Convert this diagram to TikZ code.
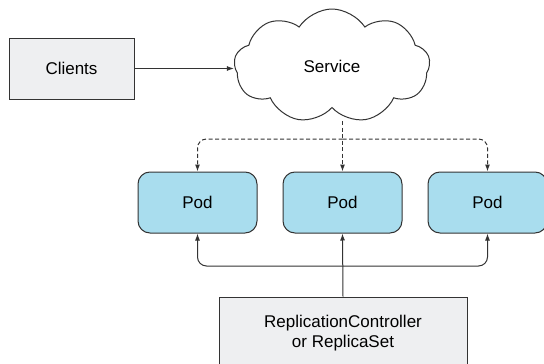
\documentclass[tikz,border=0pt]{standalone}
\usepackage{fontspec}
\setmainfont{Liberation Sans}
\usetikzlibrary{positioning,shapes.symbols,arrows.meta}
\definecolor{linegray}{HTML}{333333}
\definecolor{boxgray}{HTML}{EEEFF1}
\definecolor{podblue}{HTML}{A9DDEE}
\begin{document}
\begin{tikzpicture}[
    x=1pt, y=1pt,
    font=\fontsize{17}{20}\selectfont,
    box/.style={draw=linegray, line width=1pt, align=center, inner sep=2pt},
    plain/.style={box, fill=boxgray},
    pod/.style={box, fill=podblue, rounded corners=12pt, minimum width=119pt, minimum height=61pt},
    arr/.style={-{Latex[length=7pt,width=5pt]}, line width=1pt, draw=linegray, rounded corners=9pt},
    dasharr/.style={arr, dashed, dash pattern=on 4pt off 2.5pt}
  ]
  \useasboundingbox (0,0) rectangle (544,-364);
  % top row: clients -> service
  \node[plain, minimum width=125pt, minimum height=61pt] (clients) at (71.5,-68.5) {Clients};
  \node[draw=linegray, line width=1pt, fill=white, cloud, cloud puffs=9, cloud puff arc=115, aspect=1.75,
        minimum width=196pt, minimum height=114pt, inner sep=0pt] (svc) at (332,-66) {Service};
  % pods
  \node[pod] (pod2) at (342.5,-202.5) {Pod};
  \node[pod, left=25pt of pod2] (pod1) {Pod};
  \node[pod, right=25pt of pod2] (pod3) {Pod};
  % controller
  \node[plain, minimum width=248pt, minimum height=72pt] (rc) at (343,-333) {ReplicationController\\or ReplicaSet};
  % edges
  \draw[arr] (clients) -- (svc.west |- clients);
  \coordinate (svcbot) at (pod2.north |- 0,-121);
  \coordinate (top1) at (pod1.north |- 0,-139);
  \coordinate (top3) at (pod3.north |- 0,-139);
  \draw[dasharr] (svcbot) -- (pod2.north);
  \draw[dasharr] (svcbot |- top1) -- (top1) -- (pod1.north);
  \draw[dasharr] (svcbot |- top3) -- (top3) -- (pod3.north);
  \coordinate (bot1) at (pod1.south |- 0,-266);
  \coordinate (bot3) at (pod3.south |- 0,-266);
  \draw[arr] (rc.north) -- (pod2.south);
  \draw[arr] (rc.north |- bot1) -- (bot1) -- (pod1.south);
  \draw[arr] (rc.north |- bot3) -- (bot3) -- (pod3.south);
\end{tikzpicture}
\end{document}
